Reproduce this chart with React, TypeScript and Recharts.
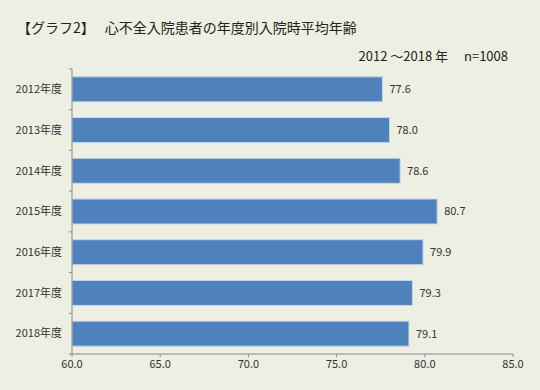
import React from 'react';
import { BarChart, Bar, XAxis, YAxis, LabelList } from 'recharts';

const years = ['2012年度', '2013年度', '2014年度', '2015年度', '2016年度', '2017年度', '2018年度'];
const avgAge = [77.6, 78.0, 78.6, 80.7, 79.9, 79.3, 79.1];
const xTicks = [60, 65, 70, 75, 80, 85];

const data = years.map((year, i) => ({ year, age: avgAge[i] }));

const FONT = '"Noto Sans CJK JP", "Noto Sans", sans-serif';
const AXIS = '#8a8a8a';

// category ticks: label at band centre, tick mark at band boundaries
const YTick = (props: any) => {
    const { x, y, payload, index } = props;
    const half = payload && payload.offset ? payload.offset : 20.4;
    const ax = x + 10;
    return (
        <g>
            <text x={x} y={y} dy="0.35em" textAnchor="end" fontSize={11} fill="#333" fontFamily={FONT}>
                {payload.value}
            </text>
            {index === 0 && <line x1={ax - 3} x2={ax} y1={y - half} y2={y - half} stroke={AXIS} />}
            <line x1={ax - 3} x2={ax} y1={y + half} y2={y + half} stroke={AXIS} />
        </g>
    );
};

export default function App() {
    return (
        <div
            style={{
                position: 'absolute',
                left: 0,
                top: 0,
                width: 540,
                height: 390,
                background: '#ECEFE1',
                fontFamily: FONT,
                color: '#222',
            }}
        >
            <div style={{ position: 'absolute', left: 17, top: 17, fontSize: 14, whiteSpace: 'pre' }}>
                【グラフ2】<span style={{ marginLeft: 10 }}>心不全入院患者の年度別入院時平均年齢</span>
            </div>
            <div style={{ position: 'absolute', right: 32, top: 46, fontSize: 13, whiteSpace: 'pre' }}>
                2012 ～2018 年　 n=1008
            </div>
            <div style={{ position: 'absolute', left: 0, top: 0 }}>
                <BarChart
                    width={540}
                    height={390}
                    data={data}
                    layout="vertical"
                    margin={{ top: 69, right: 27, bottom: 0, left: 0 }}
                    barCategoryGap="19.3%"
                >
                    <XAxis
                        type="number"
                        domain={[60, 85]}
                        ticks={xTicks}
                        allowDataOverflow
                        height={36}
                        tickFormatter={(v: number) => v.toFixed(1)}
                        tick={{ fontSize: 11, fill: '#333', fontFamily: FONT }}
                        stroke={AXIS}
                        tickSize={3}
                        tickMargin={3}
                    />
                    <YAxis
                        type="category"
                        dataKey="year"
                        width={72}
                        stroke={AXIS}
                        tickLine={false}
                        tickSize={4}
                        tickMargin={6}
                        tick={<YTick />}
                    />
                    <Bar dataKey="age" fill="#4F81BD" stroke="#C5D6EA" strokeWidth={1} isAnimationActive={false}>
                        <LabelList
                            dataKey="age"
                            position="right"
                            offset={7}
                            formatter={(v: any) => Number(v).toFixed(1)}
                            style={{ fontSize: 11, fill: '#333', fontFamily: FONT }}
                        />
                    </Bar>
                </BarChart>
            </div>
        </div>
    );
}
